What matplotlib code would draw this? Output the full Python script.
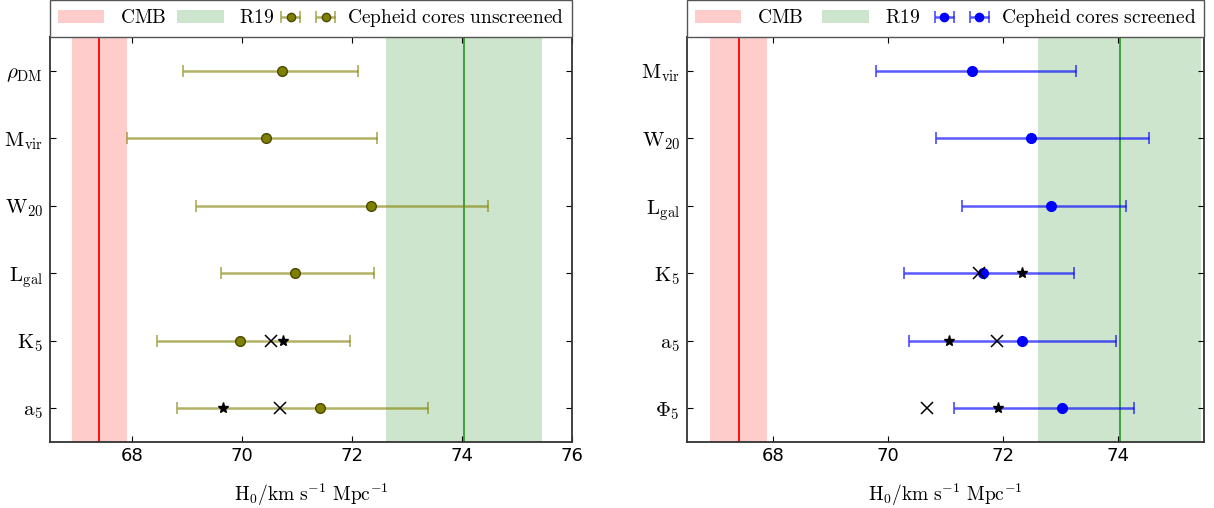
import numpy as np
import matplotlib
matplotlib.use("Agg")
import matplotlib.pyplot as plt

plt.rcParams['mathtext.fontset'] = 'cm'
plt.rcParams['font.family'] = 'DejaVu Sans'

# reference values
cmb, cmb_err = 67.4, 0.5
r19, r19_err = 74.03, 1.42

# left panel: unscreened
labels_l = [r'$\rho_{\mathrm{DM}}$', r'$\mathrm{M_{vir}}$', r'$\mathrm{W_{20}}$',
            r'$\mathrm{L_{gal}}$', r'$\mathrm{K_5}$', r'$\mathrm{a_5}$']
h0_l = [70.72, 70.43, 72.35, 70.95, 69.95, 71.41]
lo_l = [68.92, 67.91, 69.16, 69.62, 68.45, 68.81]
hi_l = [72.10, 72.45, 74.48, 72.39, 71.96, 73.38]
star_l = {4: 70.74, 5: 69.65}
cross_l = {4: 70.53, 5: 70.68}

# right panel: screened
labels_r = [r'$\mathrm{M_{vir}}$', r'$\mathrm{W_{20}}$', r'$\mathrm{L_{gal}}$',
            r'$\mathrm{K_5}$', r'$\mathrm{a_5}$', r'$\Phi_5$']
h0_r = [71.46, 72.49, 72.83, 71.66, 72.34, 73.03]
lo_r = [69.79, 70.84, 71.29, 70.28, 70.37, 71.14]
hi_r = [73.27, 74.54, 74.15, 73.24, 73.96, 74.28]
star_r = {3: 72.34, 4: 71.06, 5: 71.91}
cross_r = {3: 71.58, 4: 71.89, 5: 70.68}


def panel(ax, labels, h0, lo, hi, stars, crosses, color, ecol, mec, name, xmax):
    n = len(labels)
    y = np.arange(n)
    h0 = np.array(h0)
    xerr = [h0 - np.array(lo), np.array(hi) - h0]

    ax.axvspan(cmb - cmb_err, cmb + cmb_err, color='red', alpha=0.2, lw=0,
               label=r'$\mathrm{CMB}$')
    ax.axvline(cmb, color='red', lw=1.3)
    ax.axvspan(r19 - r19_err, r19 + r19_err, color='green', alpha=0.2, lw=0,
               label=r'$\mathrm{R19}$')
    ax.axvline(r19, color='green', lw=1.3, alpha=0.75)

    ax.errorbar(h0, y, xerr=xerr, fmt='o', color=color, ecolor=ecol,
                mfc=color, mec=mec, ms=7, elinewidth=1.8, capsize=4,
                capthick=1.3, label=name, zorder=3)
    ax.plot(list(stars.values()), list(stars.keys()), '*', color='black',
            ms=8, zorder=4)
    ax.plot(list(crosses.values()), list(crosses.keys()), 'x', color='black',
            ms=8, mew=1.1, zorder=4)

    ax.set_yticks(y)
    ax.set_yticklabels(labels)
    ax.set_ylim(n - 0.5, -0.5)
    ax.set_xlim(66.5, xmax)
    ax.set_xticks(np.arange(68, xmax + 0.01, 2))
    ax.tick_params(direction='in', top=True, right=True, length=4,
                   labelsize=13)
    ax.tick_params(axis='y', labelsize=15, pad=5)
    for s in ax.spines.values():
        s.set_linewidth(1.3)
        s.set_color('#333333')
    ax.set_xlabel(r'$\mathrm{H_0/km\ s^{-1}\ Mpc^{-1}}$', fontsize=14,
                  labelpad=12)
    leg = ax.legend(loc='lower left', bbox_to_anchor=(0, 1.0, 1, 0.088),
                    mode='expand', ncol=3, borderaxespad=0, fancybox=False,
                    edgecolor='#555555', framealpha=1, fontsize=14,
                    numpoints=2, handlelength=2.4, markerscale=0.85)
    leg.get_frame().set_linewidth(1.0)


fig = plt.figure(figsize=(12.14, 5.08), dpi=100)
ax1 = fig.add_axes([50 / 1214, 0.130, 522 / 1214, 0.797])
ax2 = fig.add_axes([687 / 1214, 0.130, 517 / 1214, 0.797])

panel(ax1, labels_l, h0_l, lo_l, hi_l, star_l, cross_l,
      'olive', (0.5, 0.5, 0.0, 0.6), '#4a4a00',
      r'$\mathrm{Cepheid\ cores\ unscreened}$', 76)
panel(ax2, labels_r, h0_r, lo_r, hi_r, star_r, cross_r,
      'blue', (0.0, 0.0, 1.0, 0.65), 'blue',
      r'$\mathrm{Cepheid\ cores\ screened}$', 75.5)

fig.savefig('out.png', dpi=100)
